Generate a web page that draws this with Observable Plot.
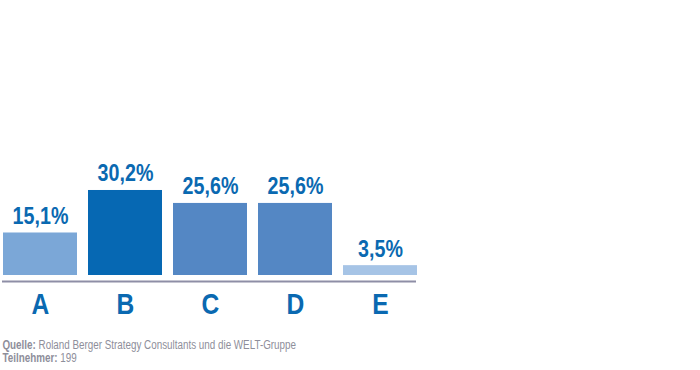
<!DOCTYPE html>
<html>
<head>
<meta charset="utf-8">
<script src="https://cdn.jsdelivr.net/npm/d3@7"></script>
<script src="https://cdn.jsdelivr.net/npm/@observablehq/plot@0.6"></script>
<style>
  html, body { margin: 0; padding: 0; background: #fff; }
  #chart svg { display: block; }
  #footer { font-family: "Liberation Sans", Arial, sans-serif; font-size: 12px; line-height: 13px; color: #8e8e9a; padding-left: 3px; transform: scaleX(0.82); transform-origin: 0 0; white-space: nowrap; }
  #footer b { font-weight: bold; }
</style>
</head>
<body>
<div id="chart"></div>
<div id="footer"><b>Quelle:</b> Roland Berger Strategy Consultants und die WELT-Gruppe<br><b>Teilnehmer:</b> 199</div>
<script>
const categories = ["A", "B", "C", "D", "E"];
const values = [15.1, 30.2, 25.6, 25.6, 3.5];
const labels = ["15,1%", "30,2%", "25,6%", "25,6%", "3,5%"];
const colors = ["#7ba7d7", "#0668b3", "#5487c4", "#5487c4", "#a6c4e6"];

const data = categories.map((c, i) => ({cat: c, value: values[i], label: labels[i], color: colors[i]}));

const chart = Plot.plot({
  width: 700,
  height: 339,
  marginLeft: 2,
  marginRight: 284,
  marginTop: 0,
  marginBottom: 64,
  x: {domain: categories, range: [3, 417], paddingInner: 11/85, paddingOuter: 0, align: 0.5},
  y: {domain: [0, 40], range: [275, 275 - 40 * 2.815], axis: null},
  style: {fontFamily: "'Liberation Sans', Arial, sans-serif"},
  marks: [
    Plot.barY(data, {x: "cat", y: "value", fill: "color"}),
    Plot.ruleY([0], {stroke: "#8e8ea6", strokeWidth: 2, dy: 6}),
    Plot.text(data, {x: "cat", y: "value", text: "label", dy: -9, lineAnchor: "bottom",
      fill: "#0a69b1", fontSize: 24, fontWeight: "bold"}),
    Plot.axisX({tickSize: 0, tickPadding: 17, fontSize: 30, fontWeight: "bold", fill: "#0a69b1", label: null})
  ]
});
d3.select(chart).selectAll("text").each(function() {
  const t = this.getAttribute("transform") || "";
  this.setAttribute("transform", t + " scale(0.82,1)");
});
document.getElementById("chart").appendChild(chart);
</script>
</body>
</html>
